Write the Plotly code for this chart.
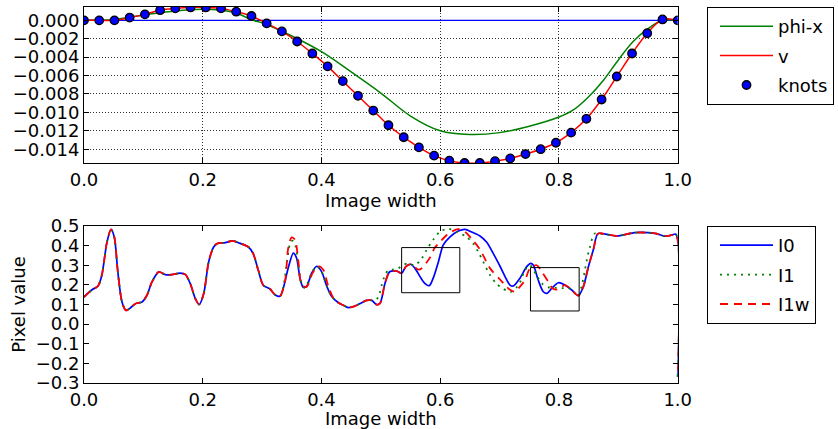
import plotly.graph_objects as go

# ---------------- data: top panel ----------------
knot_x = [0.0, 0.0256, 0.0513, 0.0769, 0.1026, 0.1282, 0.1538, 0.1795, 0.2051, 0.2308,
          0.2564, 0.2821, 0.3077, 0.3333, 0.3590, 0.3846, 0.4103, 0.4359, 0.4615, 0.4872,
          0.5128, 0.5385, 0.5641, 0.5897, 0.6154, 0.6410, 0.6667, 0.6923, 0.7179, 0.7436,
          0.7692, 0.7949, 0.8205, 0.8462, 0.8718, 0.8974, 0.9231, 0.9487, 0.9744, 1.0]
knot_y = [0.0, 0.0, 0.0, 0.0003, 0.00065, 0.0011, 0.0013, 0.0014, 0.0014, 0.0013,
          0.00094, 0.00047, -0.00033, -0.0012, -0.0023, -0.0036, -0.0050, -0.0066, -0.0082, -0.0098,
          -0.0114, -0.0127, -0.0138, -0.0147, -0.01525, -0.0155, -0.0155, -0.0153, -0.0150, -0.01453,
          -0.0140, -0.0133, -0.0122, -0.0107, -0.0086, -0.0061, -0.0036, -0.0014, 0.0001, 0.0]

phi_x = [0.0, 0.05, 0.1, 0.15, 0.2, 0.25, 0.285, 0.3, 0.35, 0.4, 0.45, 0.5, 0.55, 0.6, 0.65,
         0.7, 0.75, 0.8, 0.825, 0.85, 0.875, 0.9, 0.925, 0.95, 0.975, 1.0]
phi_y = [0.0, 0.0001, 0.00058, 0.0010, 0.0012, 0.0009, 0.0, -0.00026, -0.0017, -0.0034, -0.0056,
         -0.0079, -0.0104, -0.0120, -0.0124, -0.0122, -0.0115, -0.0105, -0.0097, -0.0083, -0.0065,
         -0.0043, -0.0023, -0.0009, 0.0, 0.0]

zero_x = [0.0, 1.0]
zero_y = [0.0, 0.0]

# ---------------- data: bottom panel ----------------
I0_x = [0.0, 0.0135, 0.0236, 0.030, 0.0387, 0.0455, 0.051, 0.057, 0.064, 0.0707,
        0.078, 0.0865, 0.0977, 0.106, 0.1145, 0.126, 0.137, 0.148, 0.162, 0.171,
        0.179, 0.1875, 0.194, 0.2016, 0.21, 0.2184, 0.224, 0.238, 0.25, 0.26,
        0.277, 0.285, 0.2936, 0.302, 0.313, 0.3217, 0.330, 0.3357, 0.344, 0.3526,
        0.358, 0.3638, 0.369, 0.375, 0.3835, 0.392, 0.400, 0.409, 0.417, 0.428,
        0.4368, 0.445, 0.4564, 0.4677, 0.476, 0.4846, 0.493, 0.4986, 0.507, 0.515,
        0.527, 0.535, 0.542, 0.550, 0.5575, 0.566, 0.574, 0.5816, 0.588, 0.597,
        0.605, 0.6165, 0.6305, 0.642, 0.653, 0.667, 0.678, 0.6895, 0.7007, 0.7175,
        0.723, 0.734, 0.7457, 0.7524, 0.757, 0.765, 0.7736, 0.780, 0.7877, 0.799,
        0.810, 0.8215, 0.8326, 0.841, 0.8494, 0.858, 0.8657, 0.8826, 0.8966, 0.9107,
        0.9276, 0.95, 0.964, 0.978, 0.989, 0.997, 1.0]
I0_y = [0.138, 0.175, 0.194, 0.249, 0.418, 0.483, 0.444, 0.266, 0.113, 0.070,
        0.082, 0.104, 0.113, 0.147, 0.215, 0.266, 0.252, 0.252, 0.26, 0.252,
        0.206, 0.13, 0.10, 0.155, 0.317, 0.393, 0.41, 0.415, 0.424, 0.415,
        0.393, 0.359, 0.274, 0.198, 0.18, 0.15, 0.142, 0.184, 0.286, 0.362,
        0.337, 0.235, 0.188, 0.193, 0.26, 0.295, 0.269, 0.193, 0.142, 0.11,
        0.096, 0.084, 0.092, 0.109, 0.121, 0.121, 0.099, 0.106, 0.208, 0.267,
        0.27, 0.259, 0.293, 0.305, 0.284, 0.242, 0.208, 0.196, 0.233, 0.318,
        0.403, 0.445, 0.475, 0.483, 0.469, 0.449, 0.418, 0.359, 0.295, 0.199,
        0.194, 0.233, 0.293, 0.31, 0.30, 0.225, 0.165, 0.157, 0.182, 0.211,
        0.199, 0.174, 0.145, 0.19, 0.29, 0.38, 0.461, 0.456, 0.449, 0.456,
        0.466, 0.466, 0.461, 0.448, 0.453, 0.458, -0.27]

I1w_x = [0.0, 0.0135, 0.0236, 0.030, 0.0387, 0.0455, 0.051, 0.057, 0.064, 0.0707,
         0.078, 0.0865, 0.0977, 0.106, 0.1145, 0.126, 0.137, 0.148, 0.162, 0.171,
         0.179, 0.1875, 0.194, 0.2016, 0.21, 0.2184, 0.224, 0.238, 0.25, 0.26,
         0.277, 0.285, 0.2936, 0.302, 0.313, 0.3217, 0.330,
         0.3386, 0.344, 0.3498, 0.3554, 0.361, 0.3667, 0.375, 0.385, 0.3947, 0.403,
         0.4115, 0.42, 0.428,
         0.4368, 0.445, 0.4564, 0.4677, 0.476, 0.4846, 0.493, 0.4986, 0.507, 0.515,
         0.527, 0.535, 0.542, 0.550,
         0.5575, 0.563, 0.569, 0.576, 0.583, 0.591, 0.60, 0.611, 0.619, 0.6305,
         0.64, 0.653, 0.667, 0.684, 0.70, 0.709, 0.7175, 0.726, 0.734, 0.743,
         0.751, 0.7625, 0.771, 0.782, 0.79, 0.799, 0.810, 0.8215, 0.8326,
         0.841, 0.8494, 0.858, 0.8657, 0.8826, 0.8966, 0.9107, 0.9276, 0.95, 0.964,
         0.978, 0.989, 0.997, 1.0]
I1w_y = [0.138, 0.175, 0.194, 0.249, 0.418, 0.483, 0.444, 0.266, 0.113, 0.070,
         0.082, 0.104, 0.113, 0.147, 0.215, 0.266, 0.252, 0.252, 0.26, 0.252,
         0.206, 0.13, 0.10, 0.155, 0.317, 0.393, 0.41, 0.415, 0.424, 0.415,
         0.393, 0.359, 0.274, 0.198, 0.18, 0.15, 0.142,
         0.218, 0.388, 0.442, 0.43, 0.32, 0.20, 0.19, 0.26, 0.295, 0.277,
         0.193, 0.133, 0.11,
         0.096, 0.084, 0.092, 0.109, 0.121, 0.121, 0.099, 0.106, 0.208, 0.267,
         0.27, 0.259, 0.293, 0.305,
         0.29, 0.278, 0.285, 0.31, 0.34, 0.39, 0.42, 0.454, 0.471, 0.484,
         0.475, 0.435, 0.38, 0.284, 0.23, 0.20, 0.175, 0.165, 0.19, 0.225,
         0.284, 0.30, 0.267, 0.216, 0.18, 0.177, 0.199, 0.174, 0.145,
         0.19, 0.29, 0.38, 0.461, 0.456, 0.449, 0.456, 0.466, 0.466, 0.461,
         0.448, 0.453, 0.458, -0.27]

I1_x = [0.0, 0.0135, 0.0236, 0.030, 0.0387, 0.0455, 0.051, 0.057, 0.064, 0.0707,
        0.078, 0.0865, 0.0977, 0.106, 0.1145, 0.126, 0.137, 0.148, 0.162, 0.171,
        0.179, 0.1875, 0.194, 0.2016, 0.21, 0.2184, 0.224, 0.238, 0.25, 0.26,
        0.277, 0.285, 0.2936, 0.302, 0.313, 0.3217, 0.330,
        0.3357, 0.342, 0.347, 0.351, 0.356, 0.361, 0.366, 0.372,
        0.3835, 0.392, 0.400, 0.409, 0.417, 0.428, 0.4368, 0.445, 0.4564, 0.4677,
        0.476, 0.4846, 0.490,
        0.4958, 0.5014, 0.507, 0.5126, 0.52, 0.529, 0.537, 0.546, 0.557, 0.569,
        0.577, 0.588, 0.5996, 0.6137, 0.628, 0.6446, 0.6557, 0.664, 0.6726, 0.684,
        0.695, 0.706, 0.7147, 0.72, 0.728, 0.734, 0.743, 0.751, 0.762, 0.771,
        0.785, 0.796, 0.808, 0.8186, 0.827, 0.8326, 0.838, 0.8438, 0.848, 0.852,
        0.8565, 0.861, 0.8657,
        0.8826, 0.8966, 0.9107, 0.9276, 0.95, 0.964, 0.978, 0.989, 0.997, 1.0]
I1_y = [0.138, 0.175, 0.194, 0.249, 0.418, 0.483, 0.444, 0.266, 0.113, 0.070,
        0.082, 0.104, 0.113, 0.147, 0.215, 0.266, 0.252, 0.252, 0.26, 0.252,
        0.206, 0.13, 0.10, 0.155, 0.317, 0.393, 0.41, 0.415, 0.424, 0.415,
        0.393, 0.359, 0.274, 0.198, 0.18, 0.15, 0.142,
        0.19, 0.32, 0.41, 0.425, 0.40, 0.30, 0.21, 0.185,
        0.26, 0.295, 0.269, 0.193, 0.142, 0.11, 0.096, 0.084, 0.092, 0.109,
        0.121, 0.121, 0.12,
        0.138, 0.198, 0.25, 0.274, 0.278, 0.284, 0.30, 0.31, 0.30, 0.335,
        0.378, 0.429, 0.471, 0.486, 0.469, 0.444, 0.41, 0.368, 0.317, 0.249,
        0.206, 0.18, 0.168, 0.165, 0.185, 0.21, 0.276, 0.30, 0.25, 0.208,
        0.185, 0.185, 0.183, 0.18, 0.157, 0.141, 0.19, 0.276, 0.344, 0.39,
        0.44, 0.463, 0.461,
        0.456, 0.449, 0.456, 0.466, 0.466, 0.461, 0.448, 0.453, 0.458, -0.27]

# highlight boxes on the bottom panel (data coordinates)
box_x0 = [0.535, 0.752]
box_x1 = [0.633, 0.834]
box_y0 = [0.16, 0.067]
box_y1 = [0.39, 0.288]

x_ticks = [0.0, 0.2, 0.4, 0.6, 0.8, 1.0]
top_y_ticks = [0.0, -0.002, -0.004, -0.006, -0.008, -0.010, -0.012, -0.014]
bot_y_ticks = [0.5, 0.4, 0.3, 0.2, 0.1, 0.0, -0.1, -0.2, -0.3]

# ---------------- figure ----------------
FONT = "DejaVu Sans"
FS = 18
BLUE, GREEN, RED = "#0000ff", "#008000", "#ff0000"

fig = go.Figure()

fig.add_trace(go.Scatter(x=zero_x, y=zero_y, mode="lines", line=dict(color=BLUE, width=1.3),
                         showlegend=False, xaxis="x", yaxis="y"))
fig.add_trace(go.Scatter(x=phi_x, y=phi_y, mode="lines", name="phi-x",
                         line=dict(color=GREEN, width=1.5, shape="spline"),
                         xaxis="x", yaxis="y", legend="legend", legendgroup="a"))
fig.add_trace(go.Scatter(x=knot_x, y=knot_y, mode="lines", name="v",
                         line=dict(color=RED, width=1.5, shape="spline"),
                         xaxis="x", yaxis="y", legend="legend", legendgroup="b"))
fig.add_trace(go.Scatter(x=knot_x, y=knot_y, mode="markers", name="knots",
                         marker=dict(color=BLUE, size=8.5, line=dict(color="black", width=1.3)),
                         xaxis="x", yaxis="y", legend="legend", legendgroup="c"))

fig.add_trace(go.Scatter(x=I0_x, y=I0_y, mode="lines", name="I0",
                         line=dict(color=BLUE, width=1.7, shape="spline", smoothing=0.8),
                         xaxis="x2", yaxis="y2", legend="legend2", legendgroup="d"))
fig.add_trace(go.Scatter(x=I1_x, y=I1_y, mode="lines", name="I1",
                         line=dict(color=GREEN, width=1.8, dash="2px,5px", shape="spline", smoothing=0.8),
                         xaxis="x2", yaxis="y2", legend="legend2", legendgroup="e"))
fig.add_trace(go.Scatter(x=I1w_x, y=I1w_y, mode="lines", name="I1w",
                         line=dict(color=RED, width=1.8, dash="8px,6px", shape="spline", smoothing=0.8),
                         xaxis="x2", yaxis="y2", legend="legend2", legendgroup="f"))

for i in range(len(box_x0)):
    fig.add_shape(type="rect", xref="x2", yref="y2", x0=box_x0[i], x1=box_x1[i],
                  y0=box_y0[i], y1=box_y1[i], line=dict(color="black", width=1))

axis_common = dict(showline=True, linecolor="black", linewidth=1, mirror="allticks",
                   ticks="inside", ticklen=5, tickcolor="black", zeroline=False,
                   automargin=False,
                   tickfont=dict(family=FONT, size=FS, color="black"))
grid_style = dict(showgrid=True, gridcolor="#333333", griddash="1px,2px", gridwidth=1)

legend_common = dict(xref="container", yref="container", xanchor="left", yanchor="top",
                     bordercolor="black", borderwidth=1, bgcolor="white",
                     font=dict(family=FONT, size=FS, color="black"),
                     tracegroupgap=3, itemwidth=53, indentation=7)

xd = [84 / 838, 677.7 / 838]
fig.update_layout(
    width=838, height=429,
    margin=dict(l=0, r=0, t=0, b=0, autoexpand=False),
    paper_bgcolor="white", plot_bgcolor="white",
    font=dict(family=FONT, size=FS, color="black"),
    xaxis=dict(domain=xd, anchor="y", range=[0, 1], tickvals=x_ticks, tickformat=".1f",
               title=dict(text="Image width", font=dict(family=FONT, size=FS), standoff=0),
               **grid_style, **axis_common),
    yaxis=dict(domain=[1 - 163 / 429, 1 - 7 / 429], anchor="x", range=[-0.0155, 0.00145],
               tickvals=top_y_ticks, tickformat=".3f",
               **grid_style, **axis_common),
    xaxis2=dict(domain=xd, anchor="y2", range=[0, 1], tickvals=x_ticks, tickformat=".1f",
                showgrid=False,
                title=dict(text="Image width", font=dict(family=FONT, size=FS), standoff=0),
                **axis_common),
    yaxis2=dict(domain=[1 - 383 / 429, 1 - 226 / 429], anchor="x2", range=[-0.3, 0.5],
                tickvals=bot_y_ticks, tickformat=".1f", showgrid=False,
                title=dict(text="Pixel value", font=dict(family=FONT, size=FS), standoff=5),
                **axis_common),
    legend=dict(x=707 / 838, y=1 - 7 / 429, **legend_common),
    legend2=dict(x=707 / 838, y=1 - 226 / 429, **legend_common),
)

fig.write_html("out.html")
